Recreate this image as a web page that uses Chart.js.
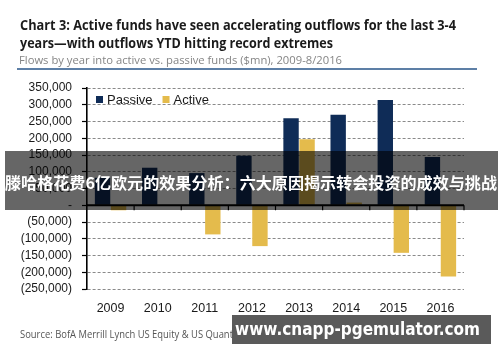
<!DOCTYPE html>
<html lang="en">
<head>
    <meta charset="UTF-8">
    <title>Chart 3: Active vs passive fund flows</title>
    <script src="https://cdn.jsdelivr.net/npm/chart.js@4.4.0/dist/chart.umd.min.js"></script>
    <style>
        body { margin: 0; background: #fff; }
        .page { position: relative; width: 500px; height: 362px; overflow: hidden; }
        .page canvas { position: absolute; left: 0; top: 0; }
        .txt { position: absolute; white-space: nowrap; transform-origin: left top; }
        .title { left: 20px; font-family: "Open Sans", sans-serif; font-weight: 700; font-size: 15px; color: #1b1b1b; line-height: 18px; }
        .subtitle { left: 19px; top: 52px; font-family: "Open Sans", sans-serif; font-size: 11.5px; color: #858585; }
        .rule { position: absolute; left: 17px; top: 68px; width: 460px; height: 1.5px; background: #5d7fa6; }
        .source { left: 20px; top: 327px; font-family: "Open Sans", sans-serif; font-size: 10px; color: #555; }
        .banner { position: absolute; left: 5px; top: 151px; width: 493px; height: 59px; background: rgba(0,0,0,0.6); z-index: 5; }
        .banner span { position: absolute; left: 0; top: 21px; font-family: "Noto Sans CJK SC", sans-serif; font-weight: 700; font-size: 16px; color: #fff; white-space: nowrap; transform-origin: left top; line-height: 20px; }
        .mark { position: absolute; left: 232px; top: 315px; width: 259px; height: 29px; background: #5a5a5a; z-index: 5; }
        .mark span { position: absolute; left: 3px; top: 3px; font-family: "DejaVu Sans", sans-serif; font-weight: 700; font-size: 17px; color: #fff; white-space: nowrap; transform-origin: left top; line-height: 22px; }
    </style>
</head>
<body>
<div class="page">
    <canvas id="graphique" width="500" height="362"></canvas>
    <span class="txt title" id="t1" style="top:15px">Chart 3: Active funds have seen accelerating outflows for the last 3-4</span>
    <span class="txt title" id="t2" style="top:33px">years—with outflows YTD hitting record extremes</span>
    <span class="txt subtitle" id="st">Flows by year into active vs. passive funds ($mn), 2009-8/2016</span>
    <div class="rule"></div>
    <span class="txt source" id="src"><span id="src1">Source: BofA Merrill Lynch US Equity &amp; US Quant</span> Strategy</span>
    <div class="banner"><span id="bn">滕哈格花费6亿欧元的效果分析：六大原因揭示转会投资的成效与挑战</span></div>
    <div class="mark"><span id="wm">www.cnapp-pgemulator.com</span></div>
</div>

<script>
    // Données ($mn)
    const years = ['2009', '2010', '2011', '2012', '2013', '2014', '2015', '2016'];
    const passive = [82000, 112000, 96000, 148000, 260000, 270000, 314000, 144000];
    const active = [-15000, 0, -87000, -122000, 197000, 8000, -142000, -213000];
    const yMin = -250000, yMax = 350000, yStep = 50000;

    const navy = '#0f2c57';
    const gold = '#e4bb4c';

    // ajuste la largeur d'un texte
    function fitWidth(id, w, refId) {
        const el = document.getElementById(id);
        const r = document.getElementById(refId || id).getBoundingClientRect().width;
        el.style.transform = 'scaleX(' + (w / r) + ')';
    }
    fitWidth('t1', 436);
    fitWidth('t2', 313);
    fitWidth('st', 323);
    fitWidth('src', 213, 'src1');
    fitWidth('bn', 492);
    fitWidth('wm', 245);

    function fmt(v) {
        if (v === 0) return '-';
        const s = Math.abs(v).toLocaleString('en-US');
        return v < 0 ? '(' + s + ')' : s;
    }

    // ligne du zéro + petites graduations, et légende dans la zone
    const zeroLine = {
        id: 'zeroLine',
        afterDatasetsDraw(chart) {
            const { ctx, chartArea, scales } = chart;
            const y0 = scales.y.getPixelForValue(0);
            const n = years.length;
            const w = (chartArea.right - chartArea.left) / n;
            ctx.save();
            ctx.strokeStyle = '#000';
            ctx.lineWidth = 2;
            ctx.beginPath();
            ctx.moveTo(chartArea.left, y0);
            ctx.lineTo(chartArea.right, y0);
            ctx.stroke();
            ctx.lineWidth = 1.2;
            for (let i = 1; i <= n; i++) {
                const x = chartArea.left + i * w;
                ctx.beginPath();
                ctx.moveTo(x, y0);
                ctx.lineTo(x, y0 + 5);
                ctx.stroke();
            }
            // légende
            ctx.font = '13px "Liberation Sans", Arial, sans-serif';
            ctx.textBaseline = 'middle';
            let x = chartArea.left + 9;
            const ly = 100;
            chart.data.datasets.forEach(ds => {
                ctx.fillStyle = ds.backgroundColor;
                ctx.fillRect(x, ly - 4, 7, 7);
                ctx.fillStyle = '#1a1a1a';
                ctx.fillText(ds.label, x + 11, ly);
                x += 11 + ctx.measureText(ds.label).width + 10;
            });
            ctx.restore();
        }
    };

    const myChart = new Chart(document.getElementById('graphique').getContext('2d'), {
        type: 'bar',
        data: {
            labels: years,
            datasets: [
                { label: 'Passive', data: passive, backgroundColor: navy, categoryPercentage: 0.68, barPercentage: 0.96 },
                { label: 'Active', data: active, backgroundColor: gold, categoryPercentage: 0.68, barPercentage: 0.96 }
            ]
        },
        options: {
            responsive: false,
            devicePixelRatio: 1,
            animation: false,
            layout: { padding: { top: 88, right: 36, bottom: 0, left: 0 } },
            plugins: { legend: { display: false }, tooltip: { enabled: false } },
            scales: {
                x: {
                    grid: { display: false, drawTicks: false },
                    border: { display: false },
                    ticks: { color: '#1a1a1a', padding: 12, font: { family: 'Liberation Sans', size: 12.5 } },
                    afterFit(s) { s.height = 73; }
                },
                y: {
                    min: yMin,
                    max: yMax,
                    ticks: {
                        stepSize: yStep,
                        autoSkip: false,
                        padding: 10,
                        color: '#1a1a1a',
                        font: { family: 'Liberation Sans', size: 12 },
                        callback: v => fmt(v)
                    },
                    grid: {
                        color: c => (c.tick && c.tick.value === 0) ? 'rgba(0,0,0,0)' : '#8a8a8a',
                        lineWidth: 1,
                        tickLength: 5,
                        tickColor: '#000',
                        tickWidth: 1.2,
                        tickBorderDash: []
                    },
                    border: { display: true, color: '#000', width: 1.6, dash: [3, 2] },
                    afterFit(s) { s.width = 87; }
                }
            }
        },
        plugins: [zeroLine]
    });
</script>
</body>
</html>
